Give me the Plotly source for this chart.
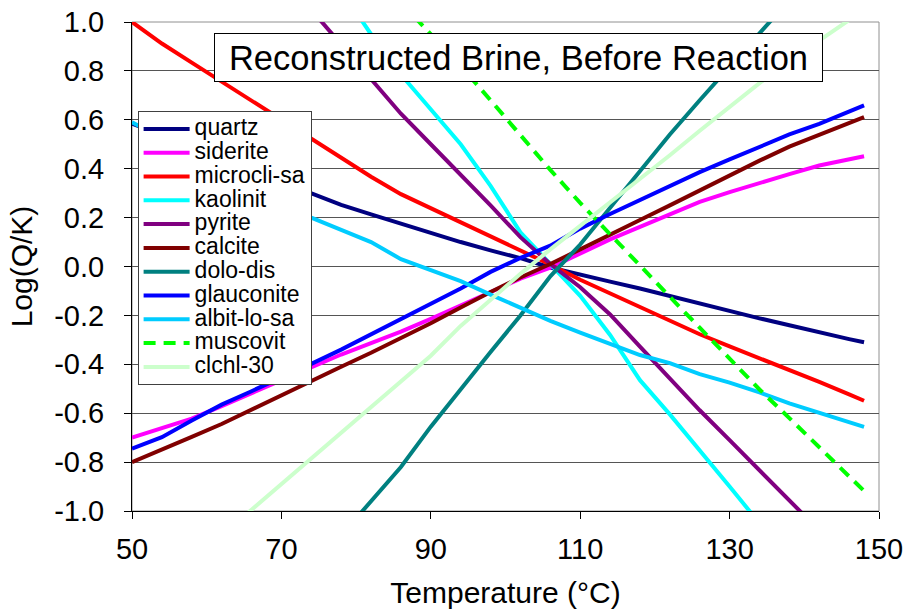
import plotly.graph_objects as go

# ---- data ----
temperature = [50, 54, 58, 62, 66, 70, 74, 78, 82, 86, 90, 94, 98, 102, 106,
               110, 114, 118, 122, 126, 130, 134, 138, 142, 146, 148]

quartz = [0.584, 0.536, 0.488, 0.44, 0.392, 0.344, 0.296, 0.252, 0.213, 0.175, 0.138, 0.100, 0.066,
          0.034, -0.004, -0.035, -0.062, -0.090, -0.121, -0.152, -0.182, -0.212, -0.240, -0.270, -0.297, -0.31]
siderite = [-0.70, -0.662, -0.622, -0.571, -0.518, -0.464, -0.411, -0.360, -0.313, -0.266, -0.214, -0.160, -0.105,
            -0.05, -0.005, 0.055, 0.111, 0.162, 0.213, 0.264, 0.304, 0.343, 0.378, 0.413, 0.440, 0.451]
microcli_sa = [1.0, 0.912, 0.834, 0.756, 0.678, 0.600, 0.521, 0.444, 0.367, 0.296, 0.238, 0.181, 0.124,
               0.067, 0.008, -0.054, -0.110, -0.166, -0.222, -0.277, -0.327, -0.374, -0.421, -0.472, -0.523, -0.549]
kaolinit = [None, None, None, None, None, None, None, 1.13, 0.95, 0.785, 0.64, 0.50, 0.33,
            0.14, 0.01, -0.12, -0.28, -0.465, -0.605, -0.75, -0.90, -1.05, None, None, None, None]
pyrite = [None, None, None, None, None, None, 1.05, 0.91, 0.77, 0.625, 0.50, 0.377, 0.25,
          0.12, 0.01, -0.085, -0.196, -0.328, -0.458, -0.588, -0.71, -0.834, -0.955, -1.08, None, None]
calcite = [-0.80, -0.75, -0.697, -0.644, -0.585, -0.524, -0.466, -0.41, -0.353, -0.293, -0.232, -0.168, -0.104,
           -0.045, 0.01, 0.07, 0.128, 0.19, 0.25, 0.312, 0.375, 0.433, 0.49, 0.537, 0.585, 0.611]
dolo_dis = [None, None, None, None, None, None, None, -1.1, -0.96, -0.82, -0.655, -0.50, -0.35,
            -0.20, -0.04, 0.09, 0.24, 0.39, 0.54, 0.68, 0.815, 0.955, 1.09, None, None, None]
glauconite = [-0.745, -0.698, -0.63, -0.565, -0.51, -0.455, -0.398, -0.34, -0.278, -0.217, -0.155, -0.09, -0.022,
              0.035, 0.085, 0.155, 0.215, 0.272, 0.33, 0.386, 0.438, 0.49, 0.54, 0.583, 0.632, 0.659]
albit_lo_sa = [0.59, 0.525, 0.46, 0.395, 0.33, 0.265, 0.20, 0.15, 0.10, 0.03, -0.017, -0.06, -0.115,
               -0.17, -0.222, -0.27, -0.315, -0.362, -0.395, -0.44, -0.475, -0.515, -0.56, -0.6, -0.638, -0.656]
muscovit = [None, None, None, None, None, None, None, None, None, 1.08, 0.95, 0.82, 0.68,
            0.535, 0.395, 0.26, 0.13, 0.004, -0.124, -0.25, -0.377, -0.503, -0.62, -0.74, -0.86, -0.918]
clchl_30 = [None, None, None, -1.1, -0.995, -0.89, -0.788, -0.68, -0.574, -0.47, -0.365, -0.243, -0.135,
            -0.03, 0.07, 0.165, 0.265, 0.36, 0.455, 0.555, 0.655, 0.75, 0.84, 0.925, 1.005, 1.05]

series_names = ["quartz", "siderite", "microcli-sa", "kaolinit", "pyrite", "calcite",
                "dolo-dis", "glauconite", "albit-lo-sa", "muscovit", "clchl-30"]
series_values = [quartz, siderite, microcli_sa, kaolinit, pyrite, calcite,
                 dolo_dis, glauconite, albit_lo_sa, muscovit, clchl_30]
series_colors = ["#000080", "#FF00FF", "#FF0000", "#00FFFF", "#800080", "#800000",
                 "#008080", "#0000FF", "#00CCFF", "#00FF00", "#CCFFCC"]
series_dash = ["solid"] * 9 + ["12px,8px", "solid"]

x_tick_vals = [50, 70, 90, 110, 130, 150]
y_tick_vals = [-1.0, -0.8, -0.6, -0.4, -0.2, 0.0, 0.2, 0.4, 0.6, 0.8, 1.0]
y_tick_text = ["-1.0", "-0.8", "-0.6", "-0.4", "-0.2", "0.0", "0.2", "0.4", "0.6", "0.8", "1.0"]

chart_title = "Reconstructed Brine, Before Reaction"
x_title = "Temperature (°C)"
y_title = "Log(Q/K)"

FONT = "Liberation Sans, Arial, sans-serif"

fig = go.Figure()
for name, vals, col, dash in zip(series_names, series_values, series_colors, series_dash):
    fig.add_trace(go.Scatter(
        x=temperature, y=vals, mode="lines",
        name='<span style="font-size:23px">' + name + '</span>',
        line=dict(color=col, width=4, dash=dash),
        connectgaps=False,
    ))

fig.update_layout(
    width=907, height=609,
    margin=dict(l=132, r=28, t=22, b=98, autoexpand=False),
    paper_bgcolor="white", plot_bgcolor="white",
    font=dict(family=FONT, color="black"),
    showlegend=True,
    legend=dict(x=0.0075, y=0.818, xanchor="left", yanchor="top",
                bgcolor="white", bordercolor="#404040", borderwidth=1,
                font=dict(size=16.0, family=FONT, color="black"),
                tracegroupgap=0, itemwidth=46),
    shapes=[dict(type="rect", xref="paper", yref="paper", x0=0, x1=1, y0=0, y1=1,
                 line=dict(color="#909090", width=1), layer="below")],
)

fig.update_xaxes(
    range=[50, 150], tickvals=x_tick_vals, ticks="outside", ticklen=7,
    tickcolor="black", showline=True, linecolor="black", linewidth=1,
    showgrid=False, zeroline=False, tickfont=dict(size=29, family=FONT),
    ticklabelstandoff=5, automargin=False, ticklabeloverflow="allow",
    title=dict(text=x_title, font=dict(size=30, family=FONT), standoff=20),
)
fig.update_yaxes(
    range=[-1, 1], tickvals=y_tick_vals, ticktext=y_tick_text, ticks="outside", ticklen=7,
    tickcolor="black", showline=True, linecolor="black", linewidth=1,
    showgrid=True, gridcolor="#555555", gridwidth=1, zeroline=False,
    tickfont=dict(size=29, family=FONT), ticklabelstandoff=14, automargin=False,
    ticklabeloverflow="allow",
    title=dict(text=y_title, font=dict(size=30, family=FONT), standoff=12),
)

fig.add_annotation(
    xref="paper", yref="paper", x=0.517, y=0.927, xanchor="center", yanchor="middle",
    text=chart_title, showarrow=False, font=dict(size=34.5, family=FONT, color="black"),
    bgcolor="white", bordercolor="black", borderwidth=1, borderpad=1,
    width=605, height=45,
)

# remove the browser's default page margin so the figure fills the window exactly
fig.write_html("out.html", config={"displayModeBar": False},
               post_script="document.body.style.margin='0';")
